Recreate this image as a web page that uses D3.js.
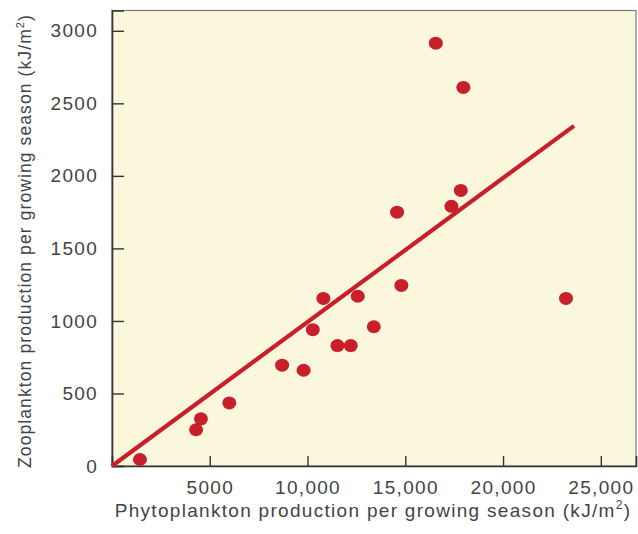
<!DOCTYPE html>
<html>
<head>
<meta charset="utf-8">
<script src="https://cdn.jsdelivr.net/npm/d3@7"></script>
<style>
  html, body { margin: 0; padding: 0; background: #ffffff; }
  svg text { font-family: "Liberation Sans", Arial, Helvetica, sans-serif; fill: #444444; letter-spacing: 1.3px; }
</style>
</head>
<body>
<svg id="chart" width="638" height="534"></svg>
<script>
// Phytoplankton vs zooplankton production per growing season (kJ/m²)
const phytoplankton = [1430, 4300, 4550, 6000, 8700, 9800, 10270, 10810, 11530, 12210, 12570, 13390, 14580, 14800, 16560, 17360, 17840, 17970, 23220];
const zooplankton   = [45, 250, 325, 435, 695, 660, 940, 1155, 830, 830, 1170, 960, 1750, 1245, 2915, 1790, 1900, 2610, 1155];

// regression line end points
const trendX = [0, 23630];
const trendY = [0, 2345];

const xTicks = [5000, 10000, 15000, 20000, 25000];
const xTickLabels = ["5000", "10,000", "15,000", "20,000", "25,000"];
const yTicks = [0, 500, 1000, 1500, 2000, 2500, 3000];
const yTickLabels = ["0", "500", "1000", "1500", "2000", "2500", "3000"];

const red = "#c91f2b";
const fontSize = 19;
const svg = d3.select("#chart");

const plotLeft = 112, plotRight = 636, plotTop = 10.5, plotBottom = 466;
const x = d3.scaleLinear().domain([0, 26800]).range([plotLeft, plotRight]);
const y = d3.scaleLinear().domain([0, 3140]).range([plotBottom, plotTop]);

// plot background and frame
svg.append("rect")
  .attr("x", plotLeft).attr("y", plotTop)
  .attr("width", plotRight - plotLeft).attr("height", plotBottom - plotTop)
  .attr("fill", "#faf7dd")
  .attr("stroke", "#7a7a7a").attr("stroke-width", 1.2);

// axes with inward ticks
const xAxis = d3.axisBottom(x).tickValues(xTicks).tickSize(-10).tickFormat((d, i) => xTickLabels[i]);
const gx = svg.append("g").attr("transform", `translate(0,${plotBottom})`).call(xAxis);
const yAxis = d3.axisLeft(y).tickValues(yTicks).tickSize(-12).tickFormat((d, i) => yTickLabels[i]);
const gy = svg.append("g").attr("transform", `translate(${plotLeft},0)`).call(yAxis);

[gx, gy].forEach(g => {
  g.select(".domain").attr("stroke", "#333").attr("stroke-width", 1.6);
  g.selectAll(".tick line").attr("stroke", "#333").attr("stroke-width", 1.4);
  g.selectAll(".tick text")
    .attr("font-size", fontSize)
    .attr("font-family", null)
    .attr("fill", "#444444");
});
gx.selectAll(".tick text").attr("y", 15);
gy.selectAll(".tick text").attr("x", -14);

// trend line
svg.append("line")
  .attr("x1", x(trendX[0])).attr("y1", y(trendY[0]))
  .attr("x2", x(trendX[1])).attr("y2", y(trendY[1]))
  .attr("stroke", red).attr("stroke-width", 4.2);

// data points
svg.append("g").selectAll("ellipse")
  .data(phytoplankton.map((v, i) => [v, zooplankton[i]]))
  .join("ellipse")
  .attr("cx", d => x(d[0])).attr("cy", d => y(d[1]))
  .attr("rx", 7).attr("ry", 6.5)
  .attr("fill", red);

// axis titles
const xt = svg.append("text")
  .attr("x", 373).attr("y", 517)
  .attr("text-anchor", "middle").attr("font-size", fontSize);
xt.append("tspan").text("Phytoplankton production per growing season (kJ/m");
xt.append("tspan").text("2").attr("font-size", 12).attr("dy", -8);
xt.append("tspan").text(")").attr("dy", 8);

const yt = svg.append("text")
  .attr("transform", "translate(31,241) rotate(-90)")
  .attr("text-anchor", "middle").attr("font-size", 17.5)
  .style("letter-spacing", "1.1px");
yt.append("tspan").text("Zooplankton production per growing season (kJ/m");
yt.append("tspan").text("2").attr("font-size", 11).attr("dy", -7);
yt.append("tspan").text(")").attr("dy", 7);
</script>
</body>
</html>
